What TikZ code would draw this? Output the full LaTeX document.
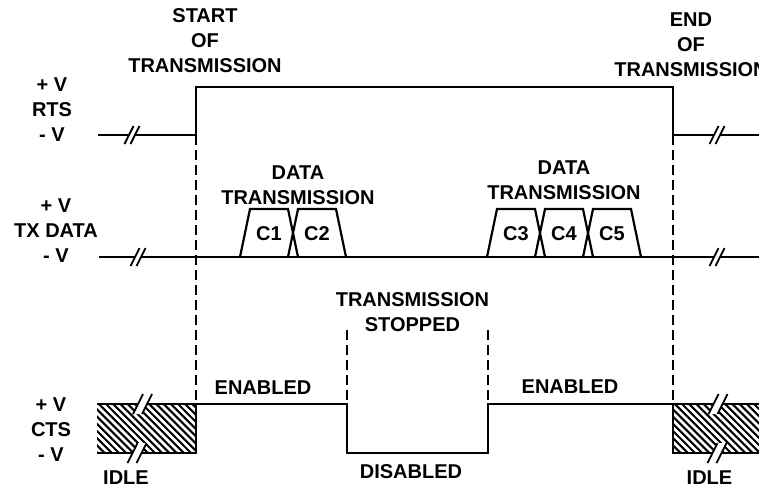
\documentclass[tikz,border=0pt]{standalone}
\usepackage{fontspec}
\setmainfont{Liberation Sans}
\begin{document}
\begin{tikzpicture}[x=1pt,y=-1pt,
  lbl/.style={font=\fontsize{20}{25}\selectfont\bfseries, align=center, inner sep=0pt},
  sig/.style={line width=2.2pt, line join=miter},
  dsh/.style={line width=2.4pt, dash pattern=on 10pt off 5pt},
  hatchline/.style={line width=2.1pt},
  brkA/.pic={\fill[white] (-7.5,9) -- (1.5,-9) -- (7.5,-9) -- (-1.5,9) -- cycle;
             \draw[line width=1.8pt] (-7.5,9) -- (1.5,-9) (-1.5,9) -- (7.5,-9);},
  brkB/.pic={\fill[white] (-9.5,10) -- (0.5,-10) -- (9.5,-10) -- (-0.5,10) -- cycle;
             \draw[line width=1.8pt] (-9.5,10) -- (0.5,-10) (-0.5,10) -- (9.5,-10);}
]
\useasboundingbox (0,0) rectangle (759,488);

% ---------- hatched idle boxes ----------
\begin{scope}
  \clip (97,404) rectangle (196,453);
  \foreach \s in {34,41.2,...,200} \draw[hatchline] (\s-5,399) -- (\s+54,458);
\end{scope}
\begin{scope}
  \clip (673,404) rectangle (760,453);
  \foreach \s in {610,617.2,...,760} \draw[hatchline] (\s-5,399) -- (\s+54,458);
\end{scope}

% ---------- RTS ----------
\draw[sig] (98,135) -- (196,135) -- (196,87) -- (673,87) -- (673,135) -- (759,135);
% ---------- TX DATA ----------
\draw[sig] (99,257) -- (759,257);
\foreach \x/\t in {240/C1,288/C2,487/C3,535/C4,583/C5} {
  \draw[sig] (\x,257) -- (\x+10,209) -- (\x+48,209) -- (\x+58,257);
  \node[lbl] (p\t) at (\x+29,234) {\t};
}
% ---------- CTS ----------
\draw[sig] (97,404) -- (196,404) -- (347,404) -- (347,453) -- (488,453) -- (488,404) -- (673,404) -- (759,404);
\draw[sig] (97,453) -- (196,453) -- (196,404);
\draw[sig] (759,453) -- (673,453) -- (673,404);

% ---------- dashed markers ----------
\draw[dsh] (196,135) -- (196,404);
\draw[dsh] (673,135) -- (673,404);
\draw[dsh] (347,330) -- (347,404);
\draw[dsh] (488,330) -- (488,404);

% ---------- breaks ----------
\pic at (132,135) {brkA};
\pic at (717,135) {brkA};
\pic at (138,257) {brkA};
\pic at (717,257) {brkA};
\pic at (142.5,404) {brkB};
\pic at (137,453) {brkB};
\pic at (718,404) {brkB};
\pic at (717,453) {brkB};

% ---------- labels ----------
\node[lbl] (start) at (205,40.5) {START\\OF\\TRANSMISSION};
\node[lbl] (end) at (691,45) {END\\OF\\TRANSMISSION};
\node[lbl] (rts) at (52,109.5) {+ V\\RTS\\- V};
\node[lbl] (tx) at (56,231) {+ V\\TX DATA\\- V};
\node[lbl] (cts) at (51,429.5) {+ V\\CTS\\- V};
\node[lbl] (idle1) at (126,478) {IDLE};
\node[lbl] (idle2) at (709.5,478) {IDLE};
\node[lbl] (en1) at (263,387.5) {ENABLED};
\node[lbl] (en2) at (570,387) {ENABLED};
\node[lbl] (stop) at (412.5,312) {TRANSMISSION\\STOPPED};
\node[lbl] (dis) at (411,471.5) {DISABLED};
\node[lbl] (data1) at (298,185) {DATA\\TRANSMISSION};
\node[lbl] (data2) at (564,180) {DATA\\TRANSMISSION};
\end{tikzpicture}
\end{document}
